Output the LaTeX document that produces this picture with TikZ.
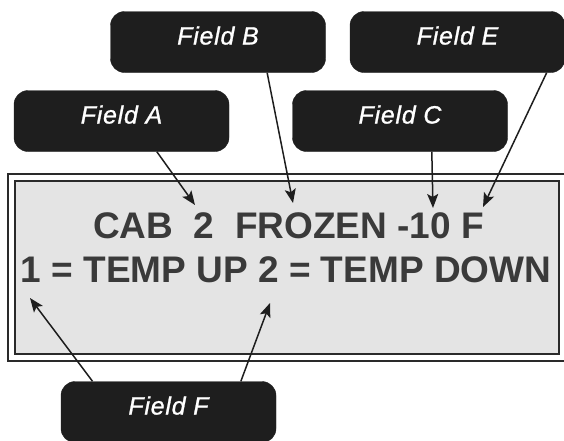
\documentclass[tikz,border=0pt]{standalone}
\usepackage{fontspec}
\setsansfont{Liberation Sans}
\newfontfamily\fieldfont{Liberation Sans}[LetterSpace=3,FakeBold=1]
\usepackage{tikz}
\usetikzlibrary{arrows.meta,calc}
\definecolor{ink}     {HTML}{1E1E1E}
\definecolor{lcdtext} {HTML}{3A3A3A}
\definecolor{lcdfill} {HTML}{E4E4E4}
\definecolor{rim}     {HTML}{2A2A2A}
\tikzset{
  >={Stealth[length=14pt,width=11pt,inset=3pt]},
  % --- nodes
  fld/.style = {rounded corners=14pt, draw=ink, fill=ink, text=white,
                minimum width=215pt, minimum height=61pt, inner sep=0pt,
                text height=17pt, text depth=12pt,
                font=\fieldfont\itshape\fontsize{25}{30}\selectfont},
  lcd/.style = {anchor=base, text=lcdtext, inner sep=0pt,
                font=\sffamily\bfseries\fontsize{37}{44}\selectfont},
  % --- edges
  e/.style   = {->, line width=1.5pt, draw=ink},
}

\begin{document}
\begin{tikzpicture}[x=1pt,y=-1pt]
  \useasboundingbox (0,0) rectangle (564,440);
  % display frame
  \draw[rim, line width=2.6pt] (8,174) rectangle (567,361);
  \draw[rim, line width=2pt, fill=lcdfill] (15,181) rectangle (559,354);
  \node[lcd] (row1) at (288.5,238) {CAB\ \ 2\ \ FROZEN -10 F};
  \node[lcd] (row2) at (286,282) {1 = TEMP UP 2 = TEMP DOWN};

  \node[fld] (fb) at (218,42)    {Field B};
  \node[fld] (fe) at (457.5,42)  {Field E};
  \node[fld] (fa) at (121.5,121) {Field A};
  \node[fld] (fc) at (400,121)   {Field C};
  \node[fld] (ff) at (168.5,412) {Field F};

  \coordinate (ta)  at (195,205);
  \coordinate (tb)  at (293,203);
  \coordinate (tc)  at (433,208);
  \coordinate (te)  at (483,207);
  \coordinate (tf1) at (30,298);
  \coordinate (tf2) at (270,303);

  \draw[e] (fa.-41) -- (ta);
  \draw[e] (fb.-32) -- (tb);
  \draw[e] (fc.-44) -- (tc);
  \draw[e] (fe.-19.5) -- (te);
  \draw[e] (ff.158) -- (tf1);
  \draw[e] (ff.23) -- (tf2);
\end{tikzpicture}
\end{document}
